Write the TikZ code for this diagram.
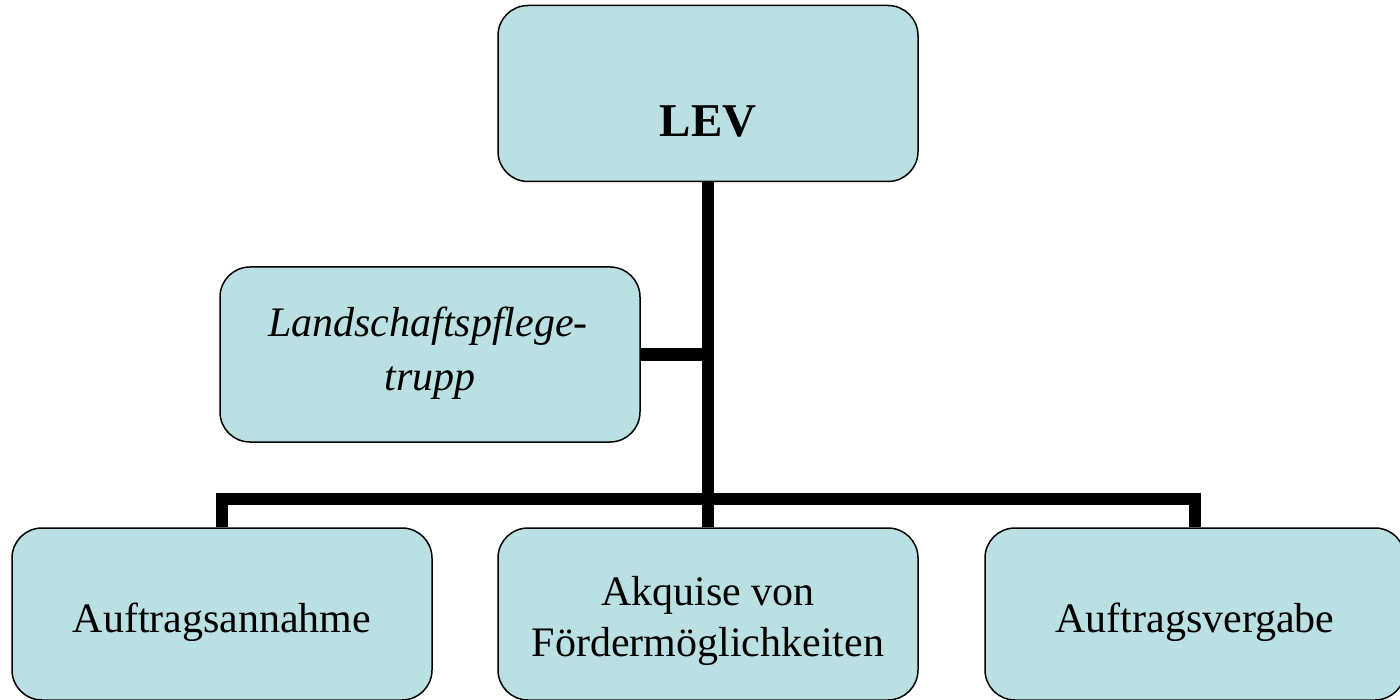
\documentclass[tikz,border=0pt]{standalone}
\usepackage{fontspec}
\setmainfont{Liberation Serif}
\definecolor{boxfill}{RGB}{187,224,227}
\tikzset{
  orgbox/.style={draw=black, line width=1.5pt, fill=boxfill, rounded corners=30pt, inner sep=0pt},
  conn/.style={line width=12.5pt, draw=black, line join=miter},
  lbl/.style={anchor=base, inner sep=0pt, font=\fontsize{42}{50}\selectfont},
}
\begin{document}
\begin{tikzpicture}[x=1pt,y=-1pt]
\useasboundingbox (0,0) rectangle (1400,700);
% boxes
\node[orgbox, minimum width=420pt, minimum height=176pt] (lev) at (708,93.5) {};
\node[orgbox, minimum width=420pt, minimum height=175pt] (land) at (430,354.5) {};
\node[orgbox, minimum width=420pt, minimum height=172pt] (left) at (222,614) {};
\node[orgbox, minimum width=420pt, minimum height=172pt] (mid) at (708,614) {};
\node[orgbox, minimum width=420pt, minimum height=172pt] (right) at (1195,614) {};
\coordinate (bar) at (708,499);
% connectors
\draw[conn] (lev.south) -- (mid.north);
\draw[conn] (left.north) -- (left.north |- bar) -- (right.north |- bar) -- (right.north);
\draw[conn] (land.east) -- (land.east -| lev.south);
% texts
\node[lbl, font=\fontsize{47}{56}\selectfont\bfseries] (tlev) at (708,137) {LEV};
\node[lbl, font=\fontsize{42}{50}\selectfont\itshape] (tland1) at (428,337) {Landschaftspflege-};
\node[lbl, font=\fontsize{42}{50}\selectfont\itshape] (tland2) at (430,391) {trupp};
\node[lbl] (tleft) at (222,632) {Auftragsannahme};
\node[lbl] (tmid1) at (708,605) {Akquise von};
\node[lbl] (tmid2) at (708,656) {Fördermöglichkeiten};
\node[lbl] (tright) at (1195,632) {Auftragsvergabe};
\end{tikzpicture}
\end{document}
